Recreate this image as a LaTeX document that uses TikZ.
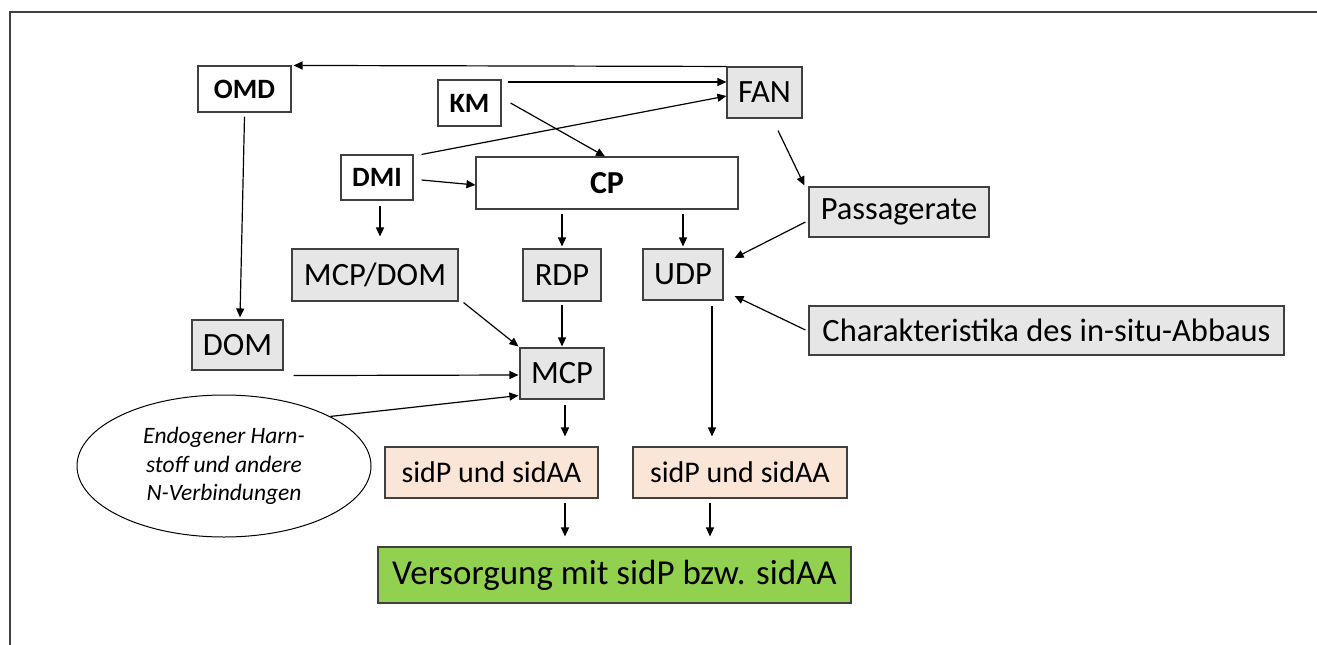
\documentclass[tikz,border=0pt]{standalone}
\usepackage{fontspec}
\setmainfont{Carlito}
\usetikzlibrary{arrows.meta,shapes.geometric}
\definecolor{boxgray}{HTML}{E6E6E6}
\definecolor{peach}{HTML}{FBE5D6}
\definecolor{lgreen}{HTML}{92D050}
\definecolor{edge}{HTML}{404040}
\tikzset{
  base/.style={draw=edge,line width=1.1pt,inner sep=0pt,align=center},
  wbox/.style={base,fill=white,font=\fontsize{28}{32}\selectfont\bfseries},
  gbox/.style={base,fill=boxgray,font=\fontsize{32.5}{38}\selectfont},
  pbox/.style={base,fill=peach,font=\fontsize{30}{36}\selectfont},
  vbox/.style={base,fill=lgreen,font=\fontsize{35}{42}\selectfont},
  arr/.style={line width=1.2pt,draw=black,-{Triangle[length=9pt,width=8pt]}}
}
\begin{document}
\begin{tikzpicture}[x=1pt,y=-1pt]
\useasboundingbox (0,0) rectangle (1317,645);
\fill[white] (0,0) rectangle (1317,645);
\draw[line width=1.2pt,edge] (10,645) -- (10,12) -- (1317,12);

\node[wbox,minimum width=93,minimum height=46] (OMD) at (244.5,89) {OMD};
\node[wbox,minimum width=63,minimum height=46] (KM) at (469.5,103) {KM};
\node[gbox,minimum width=75,minimum height=51] (FAN) at (764.5,92.5) {FAN};
\node[wbox,minimum width=262,minimum height=52,font=\fontsize{32}{36}\selectfont\bfseries] (CP) at (607,183) {CP};
\node[wbox,minimum width=72,minimum height=45] (DMI) at (377,177.5) {DMI};
\node[gbox,minimum width=180,minimum height=50] (PR) at (899,212) {Passagerate};
\node[gbox,minimum width=166,minimum height=52] (MD) at (375,275) {MCP/DOM};
\node[gbox,minimum width=78,minimum height=52] (RDP) at (562,275) {RDP};
\node[gbox,minimum width=80,minimum height=51] (UDP) at (683,274.5) {UDP};
\node[gbox,minimum width=84,minimum height=51] (MCP) at (562,373.5) {MCP};
\node[gbox,minimum width=91,minimum height=50] (DOM) at (237.5,345) {DOM};
\node[gbox,minimum width=475,minimum height=49] (CH) at (1046.5,330.5) {Charakteristika des in-situ-Abbaus};
\node[ellipse,draw=black,line width=1pt,inner sep=0pt,minimum width=294,minimum height=142,align=center,font=\fontsize{23.5}{28.5}\selectfont\itshape] (EN) at (224,466) {Endogener Harn-\\stoff und andere\\N-Verbindungen};
\node[pbox,minimum width=213,minimum height=51] (S1) at (491.5,472.5) {sidP und sidAA};
\node[pbox,minimum width=214,minimum height=51] (S2) at (740,472.5) {sidP und sidAA};
\node[vbox,minimum width=473,minimum height=56] (V) at (614.5,575) {Versorgung mit sidP bzw. sidAA};

\draw[arr] (FAN.north west) -- ([xshift=2pt]OMD.north east);
\draw[arr] ([xshift=6pt,yshift=21pt]KM.east) -- ([yshift=10.5pt]FAN.west);
\draw[arr] ([xshift=8pt]DMI.north east) -- ([yshift=-3.5pt]FAN.west);
\draw[arr] ([xshift=9pt]KM.east) -- ([xshift=-2pt]CP.north);
\draw[arr] ([xshift=8pt,yshift=-2.5pt]DMI.east) -- ([yshift=-2pt]CP.west);
\draw[arr] ([xshift=3pt,yshift=-5pt]DMI.south) -- ([xshift=5pt,yshift=12pt]MD.north);
\draw[arr,shorten <=4pt,shorten >=2pt] (CP.south -| RDP.north) -- (RDP.north);
\draw[arr,shorten <=4pt,shorten >=2pt] (CP.south -| UDP.north) -- (UDP.north);
\draw[arr] ([xshift=-3pt,yshift=-10pt]PR.west) -- ([xshift=11pt,yshift=16.5pt]UDP.east);
\draw[arr] ([xshift=-3pt,yshift=0.5pt]CH.west) -- ([xshift=11pt,yshift=-21.5pt]UDP.east);
\draw[arr] ([yshift=-4pt]OMD.south) -- ([xshift=2.5pt,yshift=2pt]DOM.north);
\draw[arr] ([xshift=5pt,yshift=-1pt]MD.south east) -- ([xshift=-1pt,yshift=1pt]MCP.north west);
\draw[arr,shorten <=3pt,shorten >=1pt] (RDP.south) -- (MCP.north);
\draw[arr] ([xshift=10pt,yshift=-5pt]DOM.south east) -- ([xshift=-1pt,yshift=-1.5pt]MCP.west);
\draw[arr] (EN.25.7) -- ([xshift=-1pt,yshift=4pt]MCP.south west);
\draw[arr] ([xshift=13.5pt,yshift=-12pt]FAN.south) -- ([xshift=-4pt,yshift=1pt]PR.north west);
\draw[arr] ([xshift=3pt,yshift=-5pt]MCP.south) -- ([xshift=73.5pt,yshift=10pt]S1.north);
\draw[arr] ([xshift=29pt,yshift=-5pt]UDP.south) -- ([xshift=-28pt,yshift=10pt]S2.north);
\draw[arr] ([xshift=73.5pt,yshift=-4pt]S1.south) -- ([xshift=-49.5pt,yshift=10pt]V.north);
\draw[arr] ([xshift=-30pt,yshift=-4pt]S2.south) -- ([xshift=95.5pt,yshift=10pt]V.north);
\end{tikzpicture}
\end{document}
